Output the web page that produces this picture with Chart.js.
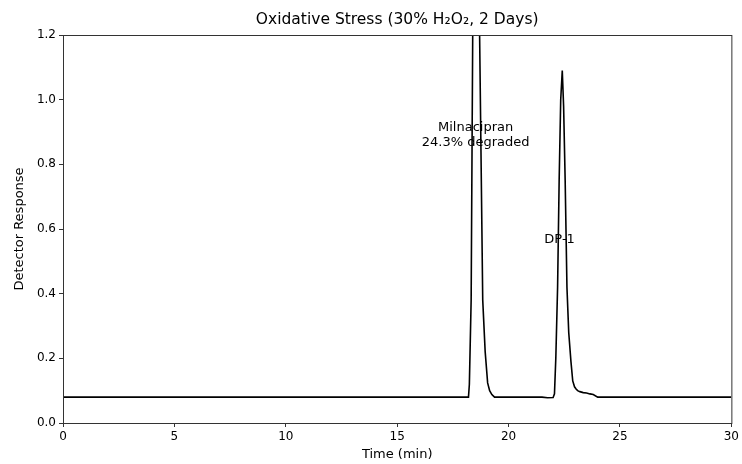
<!DOCTYPE html>
<html>
<head>
<meta charset="utf-8">
<script src="https://cdn.jsdelivr.net/npm/chart.js@4.4.1/dist/chart.umd.min.js"></script>
<style>
  body { margin: 0; background: #fff; }
  #wrap { width: 742px; height: 464px; }
</style>
</head>
<body>
<div id="wrap"><canvas id="chart"></canvas></div>
<script>
// chromatogram (time in min, detector response)
const times = [0, 5, 10, 15, 18.0, 18.2, 18.24, 18.32, 18.39, 18.47, 18.55, 18.63, 18.7, 18.84, 18.95, 19.06, 19.15, 19.25, 19.37, 20, 21.5, 21.75, 22.0, 22.06, 22.12, 22.2, 22.27, 22.34, 22.41, 22.47, 22.54, 22.62, 22.7, 22.8, 22.88, 22.96, 23.03, 23.1, 23.2, 23.35, 23.5, 23.65, 23.8, 24.0, 25, 30];
const response = [0.08, 0.08, 0.08, 0.08, 0.08, 0.08, 0.12, 0.38, 1.2, 2.6, 3.4, 2.6, 1.2, 0.38, 0.22, 0.124, 0.1, 0.088, 0.08, 0.08, 0.08, 0.078, 0.079, 0.09, 0.2, 0.42, 0.75, 1.0, 1.09, 0.98, 0.75, 0.42, 0.28, 0.19, 0.13, 0.112, 0.105, 0.1, 0.097, 0.094, 0.093, 0.09, 0.088, 0.08, 0.08, 0.08];

const xTicks = [0, 5, 10, 15, 20, 25, 30];
const yTicks = ['0.0', '0.2', '0.4', '0.6', '0.8', '1.0', '1.2'];

const peakLabels = [
  { x: 18.52, y: 0.912, text: 'Milnacipran' },
  { x: 18.52, y: 0.866, text: '24.3% degraded' },
  { x: 22.29, y: 0.566, text: 'DP-1' }
];

const FONT = 'DejaVu Sans';

const points = times.map((t, i) => ({ x: t, y: response[i] }));

// title, box spines and peak labels (labels sit under the trace)
const decor = {
  id: 'decor',
  beforeDatasetsDraw(chart) {
    const { ctx, scales: { x, y } } = chart;
    ctx.save();
    ctx.fillStyle = '#000';
    ctx.font = '13px "' + FONT + '"';
    ctx.textAlign = 'center';
    ctx.textBaseline = 'middle';
    peakLabels.forEach(l => {
      ctx.fillText(l.text, x.getPixelForValue(l.x), y.getPixelForValue(l.y));
    });
    ctx.restore();
  },
  afterDraw(chart) {
    const { ctx, chartArea: a } = chart;
    ctx.save();
    ctx.strokeStyle = '#333';
    ctx.lineWidth = 1;
    ctx.strokeRect(a.left + 0.5, a.top + 0.5, a.right - a.left, a.bottom - a.top);
    ctx.fillStyle = '#000';
    ctx.font = '15.5px "' + FONT + '"';
    ctx.textAlign = 'center';
    ctx.textBaseline = 'middle';
    ctx.fillText('Oxidative Stress (30% H\u2082O\u2082, 2 Days)', (a.left + a.right) / 2, 20);
    ctx.restore();
  }
};

new Chart(document.getElementById('chart'), {
  type: 'line',
  data: {
    datasets: [{
      label: 'Oxidative',
      data: points,
      borderColor: '#000',
      borderWidth: 1.6,
      pointRadius: 0,
      tension: 0,
      fill: false
    }]
  },
  options: {
    responsive: true,
    maintainAspectRatio: false,
    animation: false,
    layout: { padding: { top: 35, right: 10, left: 0, bottom: 0 } },
    plugins: {
      legend: { display: false },
      tooltip: { enabled: false }
    },
    scales: {
      x: {
        type: 'linear',
        min: 0,
        max: 30,
        afterFit: s => { s.height = 41; },
        afterBuildTicks: s => { s.ticks = xTicks.map(v => ({ value: v })); },
        grid: { drawOnChartArea: false, drawTicks: true, tickLength: 4, color: '#333' },
        border: { display: true, color: '#333' },
        ticks: {
          color: '#000',
          padding: 3,
          maxRotation: 0,
          font: { family: FONT, size: 12 },
          callback: v => String(v)
        },
        title: {
          display: true,
          text: 'Time (min)',
          color: '#000',
          font: { family: FONT, size: 13 },
          padding: { top: 0, bottom: 2 }
        }
      },
      y: {
        type: 'linear',
        min: 0,
        max: 1.2,
        afterFit: s => { s.width = 63; },
        afterBuildTicks: s => { s.ticks = yTicks.map(v => ({ value: parseFloat(v) })); },
        grid: { drawOnChartArea: false, drawTicks: true, tickLength: 4, color: '#333' },
        border: { display: true, color: '#333' },
        ticks: {
          color: '#000',
          padding: 3,
          font: { family: FONT, size: 12 },
          callback: (v, i) => yTicks[i]
        },
        title: {
          display: true,
          text: 'Detector Response',
          color: '#000',
          font: { family: FONT, size: 13 },
          padding: { top: 12, bottom: 0 }
        }
      }
    }
  },
  plugins: [decor]
});
</script>
</body>
</html>
